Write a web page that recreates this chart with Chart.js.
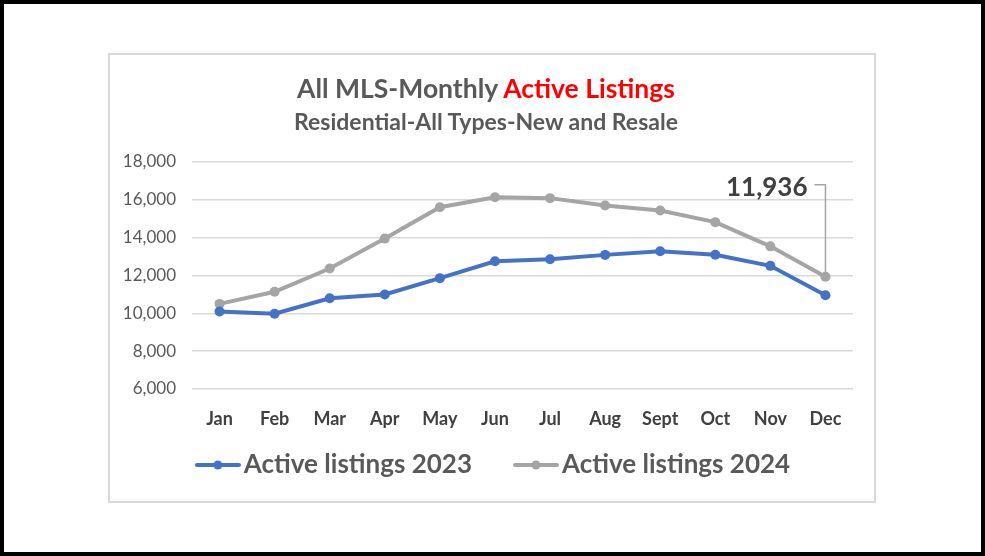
<!DOCTYPE html>
<html>
<head>
<meta charset="utf-8">
<script src="https://cdn.jsdelivr.net/npm/chart.js@4.4.1/dist/chart.umd.min.js"></script>
<style>
  body { margin: 0; background: #fff; font-family: Lato, sans-serif; }
  #frame { position: absolute; left: 0; top: 0; width: 985px; height: 556px; box-sizing: border-box; border: 4px solid #000; }
  #box { position: absolute; left: 108px; top: 53px; width: 768px; height: 450px; box-sizing: border-box; border: 2px solid #d9d9d9; }
  #myChart { position: absolute; left: 0; top: 0; }
  .title { position: absolute; left: 0; width: 972px; text-align: center; color: #595959; font-weight: bold; white-space: nowrap; }
  #t1 { top: 72px; font-size: 26.5px; line-height: 32px; }
  #t1 span { color: #ff0000; }
  #t2 { top: 107px; font-size: 23px; line-height: 28px; }
</style>
</head>
<body>
<div id="frame"></div>
<div id="box"></div>
<canvas id="myChart" width="985" height="556"></canvas>
<div class="title" id="t1">All MLS-Monthly <span>Active Listings</span></div>
<div class="title" id="t2">Residential-All Types-New and Resale</div>
<script>
const months = ['Jan', 'Feb', 'Mar', 'Apr', 'May', 'Jun', 'Jul', 'Aug', 'Sept', 'Oct', 'Nov', 'Dec']
const listings2023 = [10100, 9980, 10800, 11000, 11860, 12750, 12860, 13090, 13280, 13100, 12510, 10960]
const listings2024 = [10500, 11140, 12370, 13950, 15610, 16140, 16090, 15700, 15440, 14820, 13540, 11936]
const seriesNames = ['Active listings 2023', 'Active listings 2024']
const yMin = 6000
const yMax = 18000
const yStep = 2000

const blue = '#4472c4'
const gray = '#a5a5a5'

const legendFont = 26
const legendPad = 21
const legendBox = 56

// line+dot legend symbol; drawn on the right part of a wider transparent
// canvas so the symbol sits just before the text
function legendMarker(color) {
    const visStart = legendBox + legendFont / 2 - 49   // from item start
    const half = legendBox + legendFont / 2 - 3 - legendBox / 2
    const c = document.createElement('canvas')
    c.width = Math.round(half * 2)
    c.height = 14
    const x0 = c.width / 2 - (legendBox / 2 - visStart)
    const g = c.getContext('2d')
    g.strokeStyle = color
    g.lineWidth = 4
    g.lineCap = 'round'
    g.beginPath()
    g.moveTo(x0 + 2, 7)
    g.lineTo(x0 + 44, 7)
    g.stroke()
    g.fillStyle = color
    g.beginPath()
    g.arc(x0 + 23, 7, 4.5, 0, Math.PI * 2)
    g.fill()
    return c
}
const markers = [legendMarker(blue), legendMarker(gray)]

// callout for the last 2024 value
const lastLabel = {
    id: 'lastLabel',
    afterDatasetsDraw(chart) {
        const meta = chart.getDatasetMeta(1)
        const pt = meta.data[meta.data.length - 1]
        const value = listings2024[listings2024.length - 1]
        const ctx = chart.ctx
        ctx.save()
        ctx.strokeStyle = gray
        ctx.lineWidth = 1.5
        ctx.beginPath()
        ctx.moveTo(pt.x - 11, pt.y - 92)
        ctx.lineTo(pt.x, pt.y - 92)
        ctx.lineTo(pt.x, pt.y - 4)
        ctx.stroke()
        ctx.fillStyle = '#404040'
        ctx.font = 'bold 26px Lato'
        ctx.textAlign = 'right'
        ctx.textBaseline = 'middle'
        ctx.fillText(value.toLocaleString('en-US'), pt.x - 18, pt.y - 89)
        ctx.restore()
    }
}

const data = {
    labels: months,
    datasets: [{
        label: seriesNames[0],
        data: listings2023,
        borderColor: blue,
        backgroundColor: blue,
        borderWidth: 4,
        pointRadius: 5,
        pointBorderWidth: 0,
        tension: 0
    }, {
        label: seriesNames[1],
        data: listings2024,
        borderColor: gray,
        backgroundColor: gray,
        borderWidth: 4,
        pointRadius: 5,
        pointBorderWidth: 0,
        tension: 0
    }]
}

const config = {
    type: 'line',
    data: data,
    plugins: [lastLabel],
    options: {
        responsive: false,
        animation: false,
        layout: { padding: { left: 112, right: 132, top: 162, bottom: 68 } },
        scales: {
            x: {
                offset: true,
                grid: { display: false, drawTicks: false },
                border: { display: false },
                ticks: { color: '#404040', padding: 19, font: { family: 'Lato', size: 18, weight: 'bold' } },
                afterFit: (s) => { s.height = 42 }
            },
            y: {
                min: yMin,
                max: yMax,
                grid: { color: '#d9d9d9', lineWidth: 1.5, drawTicks: false },
                border: { display: false },
                ticks: {
                    stepSize: yStep,
                    color: '#595959',
                    padding: 16,
                    font: { family: 'Lato', size: 17 },
                    callback: (v) => v.toLocaleString('en-US')
                },
                afterFit: (s) => { s.width = 80 }
            }
        },
        plugins: {
            legend: {
                position: 'bottom',
                labels: {
                    usePointStyle: true,
                    pointStyleWidth: legendBox,
                    padding: legendPad,
                    color: '#595959',
                    font: { family: 'Lato', size: legendFont, weight: 'bold' },
                    generateLabels: (chart) => {
                        const items = Chart.defaults.plugins.legend.labels.generateLabels(chart)
                        items.forEach((it, i) => { it.pointStyle = markers[i] })
                        return items
                    }
                }
            },
            tooltip: { enabled: false }
        }
    }
}

const myChart = new Chart(document.getElementById('myChart'), config)
</script>
</body>
</html>
